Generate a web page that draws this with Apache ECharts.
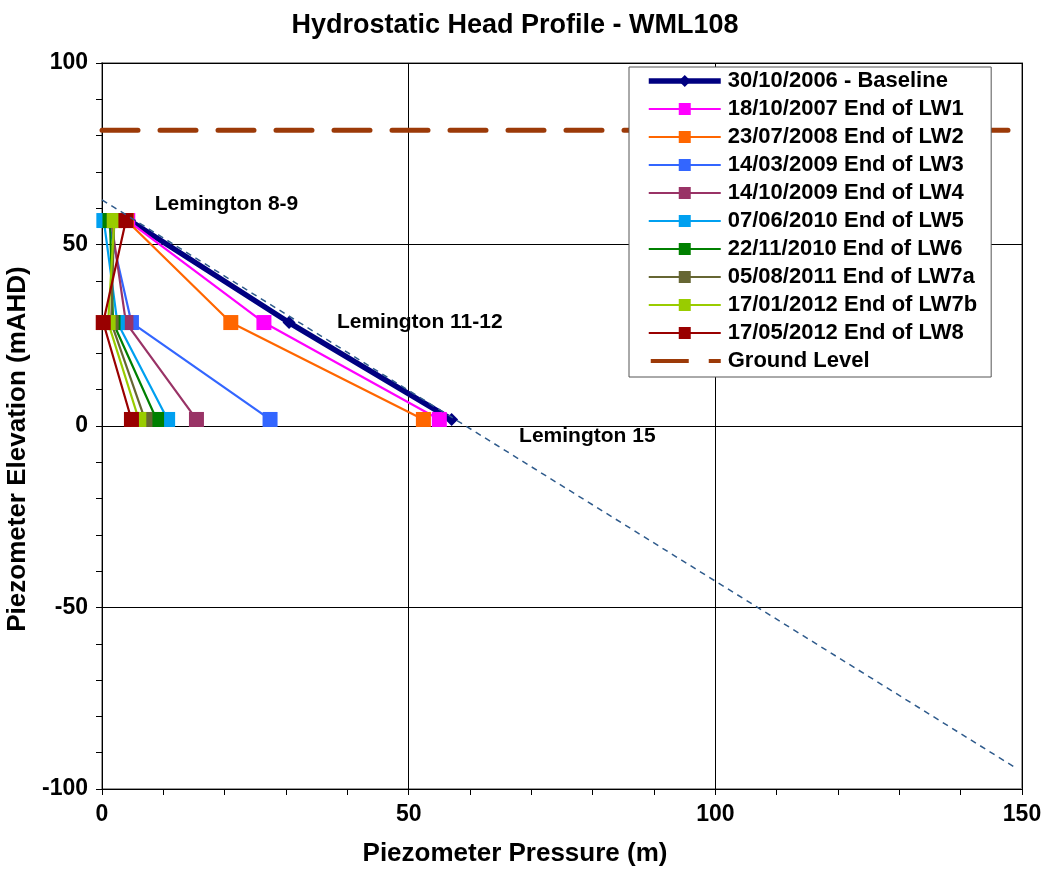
<!DOCTYPE html>
<html><head><meta charset="utf-8">
<script src="https://cdn.jsdelivr.net/npm/echarts@6/dist/echarts.min.js"></script>
<style>html,body{margin:0;padding:0;background:#fff}#c{width:1051px;height:873px}</style>
</head><body><div id="c"></div>
<script>
// Piezometer elevations (mAHD)
const elevations = [56.6, 28.5, 1.8];
// Pressures (m) at each elevation per survey
const seriesNames = [
  '30/10/2006 - Baseline','18/10/2007 End of LW1','23/07/2008 End of LW2','14/03/2009 End of LW3',
  '14/10/2009 End of LW4','07/06/2010 End of LW5','22/11/2010 End of LW6','05/08/2011 End of LW7a',
  '17/01/2012 End of LW7b','17/05/2012 End of LW8'
];
const baseline = [4.5, 30.5, 57.0];
const lw1  = [4.2, 26.4, 55.0];
const lw2  = [4.0, 21.0, 52.4];
const lw3  = [1.0, 4.8, 27.4];
const lw4  = [1.5, 3.9, 15.4];
const lw5  = [0.3, 2.5, 10.7];
const lw6  = [1.3, 1.8, 8.9];
const lw7a = [2.0, 1.5, 7.0];
const lw7b = [2.0, 1.0, 6.0];
const lw8  = [3.9, 0.2, 4.8];
const groundLevel = 81.5;
const hydrostaticLine = [[0, 62.3], [149, -94.2]];
const annotations = [
  {name: 'Lemington 8-9', value: [8.6, 61.2]},
  {name: 'Lemington 11-12', value: [38.3, 28.6]},
  {name: 'Lemington 15', value: [68, -2.8]}
];
const xTicks = [0, 50, 100, 150];
const yTicks = [-100, -50, 0, 50, 100];

const pressureSets = [baseline, lw1, lw2, lw3, lw4, lw5, lw6, lw7a, lw7b, lw8];
const colors = ['#000080','#FF00FF','#FF6600','#3366FF','#993366','#00A0F0','#008000','#666633','#99CC00','#990000'];
const groundColor = '#9C3A08';
const font = 'Liberation Sans, Arial, sans-serif';

const series = [];
pressureSets.forEach((p, i) => {
  const isBase = i === 0;
  series.push({
    name: seriesNames[i], type: 'line',
    data: p.map((v, k) => [v, elevations[k]]),
    symbol: isBase ? 'diamond' : 'rect',
    symbolSize: isBase ? 13 : 15,
    itemStyle: {color: colors[i]},
    lineStyle: {color: colors[i], width: isBase ? 5.5 : 2.2},
    z: 3 + i, animation: false
  });
});
series.push({
  name: 'Ground Level', type: 'line',
  data: [[0, groundLevel], [150, groundLevel]],
  symbol: 'none', itemStyle: {color: groundColor},
  lineStyle: {color: groundColor, width: 5, type: [36, 22], cap: 'round'}, z: 2, animation: false
});
series.push({
  name: 'hydro', type: 'line', data: hydrostaticLine, symbol: 'none',
  lineStyle: {color: '#2F5B8C', width: 1.5, type: [6, 5]}, z: 20, animation: false
});
series.push({
  name: 'labels', type: 'scatter', data: annotations, symbolSize: 0,
  label: {show: true, position: 'right', distance: 0, formatter: d => d.name,
    fontFamily: font, fontWeight: 'bold', fontSize: 21, color: '#000', opacity: 1, textBorderWidth: 0},
  emphasis: {disabled: true},
  z: 30, animation: false
});

const legendData = seriesNames.map((n, i) => i === 0
  ? {name: n, lineStyle: {width: 5.5}}
  : {name: n, lineStyle: {width: 2.2}});
legendData.push({name: 'Ground Level',
  icon: 'path://M0,0 M2,5.5h38v4h-38z M60,5.5h12v4h-12z M72,15',
  itemStyle: {color: groundColor}});

const axisCommon = {
  axisLine: {show: true, onZero: false, lineStyle: {color: '#000', width: 1}},
  axisTick: {show: true, length: 6, inside: false, lineStyle: {color: '#000'}},
  minorTick: {show: true, splitNumber: 5, length: 6, lineStyle: {color: '#000'}},
  splitLine: {show: true, lineStyle: {color: '#000', width: 1}},
  axisLabel: {fontFamily: font, fontWeight: 'bold', fontSize: 23, color: '#000'}
};

const chart = echarts.init(document.getElementById('c'), null, {renderer: 'canvas'});
chart.setOption({
  animation: false,
  backgroundColor: '#fff',
  title: {text: 'Hydrostatic Head Profile - WML108', left: 510, top: 7, textAlign: 'center',
    textStyle: {fontFamily: font, fontWeight: 'bold', fontSize: 27, color: '#000'}},
  grid: {left: 102, right: 29, top: 63, bottom: 84, show: true, borderColor: '#999', borderWidth: 2,
    containLabel: false, outerBoundsMode: 'none'},
  legend: {
    data: legendData, orient: 'vertical', left: 629, top: 67,
    itemWidth: 72, itemHeight: 15, itemGap: 6,
    padding: [3, 14, 5, 17], borderColor: '#555', borderWidth: 1, backgroundColor: '#fff',
    textStyle: {fontFamily: font, fontWeight: 'bold', fontSize: 22, lineHeight: 22, color: '#000', padding: [0,0,0,2]}
  },
  xAxis: Object.assign({}, axisCommon, {type: 'value', min: xTicks[0], max: xTicks[xTicks.length-1], interval: 50,
    name: 'Piezometer Pressure (m)', nameLocation: 'middle', nameGap: 52,
    nameTextStyle: {fontFamily: font, fontWeight: 'bold', fontSize: 26, color: '#000', padding: [0, 94, 0, 0]},
    axisLabel: Object.assign({}, axisCommon.axisLabel, {margin: 14})}),
  yAxis: Object.assign({}, axisCommon, {type: 'value', min: yTicks[0], max: yTicks[yTicks.length-1], interval: 50,
    name: 'Piezometer Elevation (mAHD)', nameLocation: 'middle', nameGap: 62, nameRotate: 90,
    nameTextStyle: {fontFamily: font, fontWeight: 'bold', fontSize: 26, color: '#000', padding: [0, 46, 0, 0]},
    axisLabel: Object.assign({}, axisCommon.axisLabel, {margin: 14})}),
  series: series
});
</script></body></html>
